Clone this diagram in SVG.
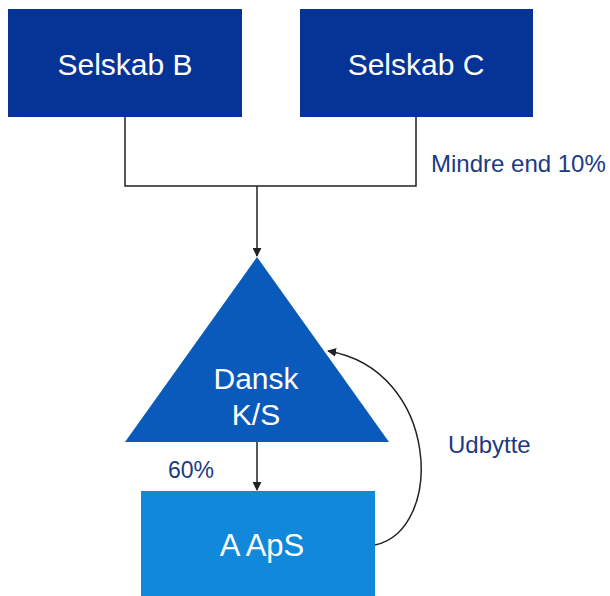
<svg xmlns="http://www.w3.org/2000/svg" width="610" height="596" viewBox="0 0 610 596">
<defs>
<style>
.lbl{font-family:"Liberation Sans",Arial,sans-serif;fill:#ffffff;text-anchor:middle}
.note{font-family:"Liberation Sans",Arial,sans-serif;fill:#1c3a82}
.conn{fill:none;stroke:#222;stroke-width:1.5}
</style>
<marker id="ah" viewBox="0 0 10 10" refX="9" refY="5" markerWidth="9" markerHeight="9" orient="auto" markerUnits="userSpaceOnUse">
<path d="M0,0 L10,5 L0,10 z" fill="#222"/>
</marker>
</defs>
<rect width="610" height="596" fill="#ffffff"/>
<g id="selskab-b">
<rect x="8" y="9" width="234" height="108" fill="#063496"/>
<text class="lbl" x="125" y="75" font-size="30">Selskab B</text>
</g>
<g id="selskab-c">
<rect x="300" y="9" width="233" height="108" fill="#063496"/>
<text class="lbl" x="416" y="75" font-size="30">Selskab C</text>
</g>
<g id="dansk-ks">
<polygon points="257,257 389,442 125,442" fill="#0a5abb"/>
<text class="lbl" x="256" y="389" font-size="30">Dansk</text>
<text class="lbl" x="256" y="425" font-size="30">K/S</text>
</g>
<g id="a-aps">
<rect x="141" y="491" width="234" height="105" fill="#1188da"/>
<text class="lbl" x="262" y="556" font-size="31">A ApS</text>
</g>
<g id="connectors">
<path class="conn" d="M125,117 V186 H416 V117"/>
<path class="conn" d="M257,186 V256" marker-end="url(#ah)"/>
<path class="conn" d="M257,442 V490" marker-end="url(#ah)"/>
<path class="conn" d="M375,545 C445,530 440,370 328,351" marker-end="url(#ah)"/>
</g>
<text class="note" x="431" y="172" font-size="24">Mindre end 10%</text>
<text class="note" x="448" y="453" font-size="24">Udbytte</text>
<text class="note" x="168" y="478" font-size="23">60%</text>
</svg>
